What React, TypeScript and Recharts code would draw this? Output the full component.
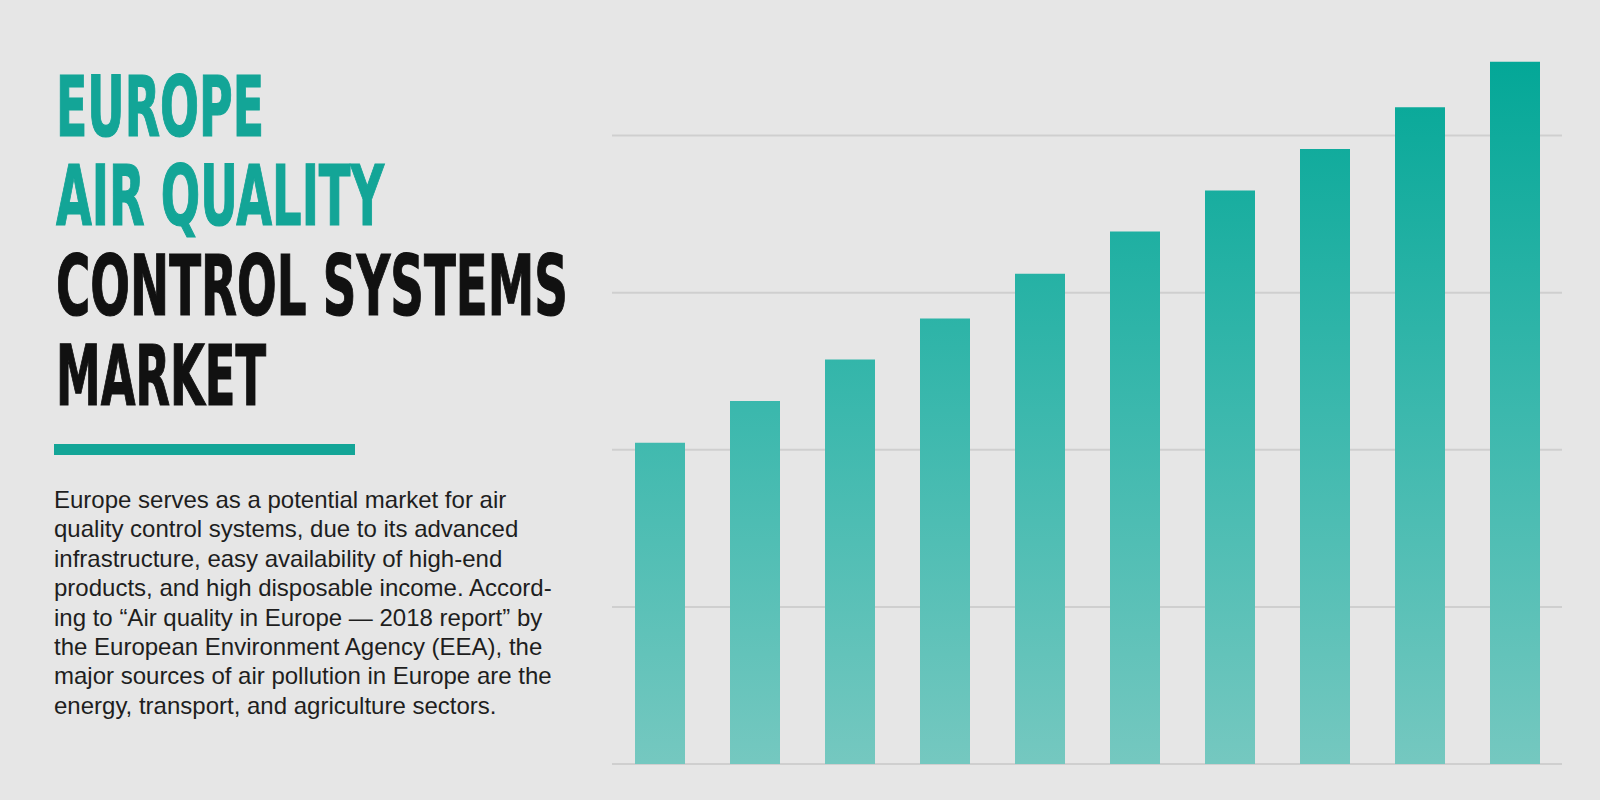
import React from 'react';
import { BarChart, Bar, XAxis, YAxis, CartesianGrid } from 'recharts';

// bar heights (no axis labels are shown)
const categories = ['1', '2', '3', '4', '5', '6', '7', '8', '9', '10'];
const values = [40.9, 46.2, 51.5, 56.7, 62.4, 67.8, 73.0, 78.3, 83.6, 89.4];
const gridTicks = [0, 20, 40, 60, 80];

const titleLines = ['EUROPE', 'AIR QUALITY', 'CONTROL SYSTEMS', 'MARKET'];
const bodyLines = [
  'Europe serves as a potential market for air',
  'quality control systems, due to its advanced',
  'infrastructure, easy availability of high-end',
  'products, and high disposable income. Accord-',
  'ing to \u201CAir quality in Europe \u2014 2018 report\u201D by',
  'the European Environment Agency (EEA), the',
  'major sources of air pollution in Europe are the',
  'energy, transport, and agriculture sectors.',
];

const TEAL = '#13a597';

export default function App() {
  const data = categories.map((c, i) => ({ name: c, value: values[i] }));

  const titleColors = [TEAL, TEAL, '#111', '#111'];
  const titleWidths = [208, 328, 512, 210];
  const titleBase = [136, 225, 315, 405];

  return (
    <div style={{ position: 'absolute', left: 0, top: 0, width: 1600, height: 800, background: '#e6e6e6', overflow: 'hidden' }}>
      {/* title */}
      <svg width={1000} height={430} style={{ position: 'absolute', left: 0, top: 0 }}>
        {titleLines.map((t, i) => (
          <text
            key={t}
            x={56}
            y={titleBase[i]}
            textLength={titleWidths[i]}
            lengthAdjust="spacingAndGlyphs"
            fill={titleColors[i]}
            stroke={titleColors[i]}
            strokeWidth={1.2}
            style={{ fontFamily: '"Liberation Sans Narrow", "DejaVu Sans Condensed", Roboto, sans-serif', fontWeight: 700, fontSize: 84 }}
          >
            {t}
          </text>
        ))}
      </svg>

      <div style={{ position: 'absolute', left: 54, top: 444, width: 301, height: 11, background: TEAL }} />

      <div style={{ position: 'absolute', left: 54, top: 485, fontFamily: '"Liberation Sans", Arial, sans-serif', fontSize: 24, lineHeight: '29.4px', color: '#1e1e1e', whiteSpace: 'nowrap' }}>
        {bodyLines.map((l) => (
          <div key={l}>{l}</div>
        ))}
      </div>

      {/* chart */}
      <div style={{ position: 'absolute', left: 600, top: 0 }}>
        <BarChart width={1000} height={800} data={data} margin={{ top: 57, right: 38, bottom: 36, left: 12 }} barSize={50}>
          <defs>
            <linearGradient id="barGrad" gradientUnits="userSpaceOnUse" x1={0} y1={57} x2={0} y2={764}>
              <stop offset="0%" stopColor="#03a797" />
              <stop offset="50%" stopColor="#3bb8ad" />
              <stop offset="100%" stopColor="#75c8c0" />
            </linearGradient>
          </defs>
          <CartesianGrid vertical={false} horizontalValues={gridTicks} stroke="#cfcfcf" strokeWidth={2} />
          <XAxis dataKey="name" hide />
          <YAxis domain={[0, 90]} ticks={gridTicks} hide />
          <Bar dataKey="value" fill="url(#barGrad)" isAnimationActive={false} />
        </BarChart>
      </div>
    </div>
  );
}
